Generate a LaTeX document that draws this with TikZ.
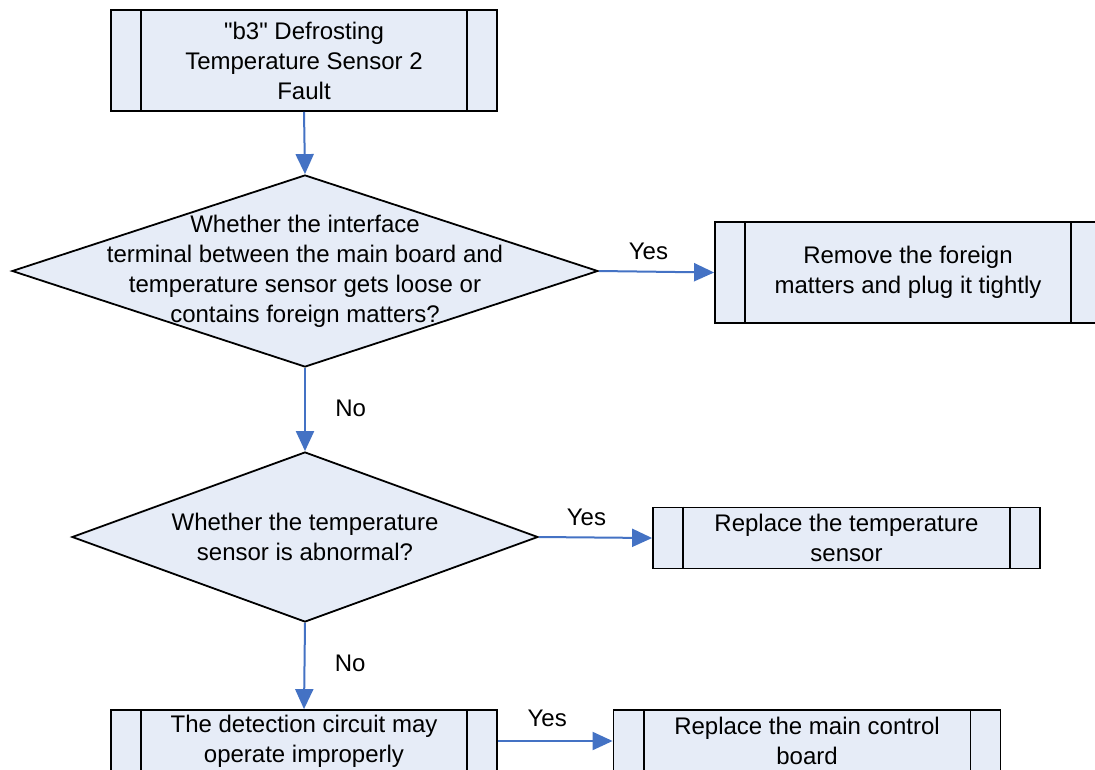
\documentclass[tikz,border=0pt]{standalone}
\usepackage{fontspec}
\setmainfont{Liberation Sans}
\usetikzlibrary{shapes.geometric,arrows.meta}
\font\qfont="Liberation Sans" at 24pt
\newcommand{\dq}{{\qfont\char34}}
\definecolor{boxfill}{HTML}{E6ECF7}
\definecolor{arrowblue}{HTML}{4472C4}
\tikzset{
  txt/.style={font=\fontsize{24}{30}\selectfont, align=center, text=black},
  pbox/.style={draw=black, line width=1.8pt, fill=boxfill, rectangle, inner sep=0pt, txt},
  dbox/.style={draw=black, line width=1.8pt, fill=boxfill, diamond, inner sep=0pt},
  innerline/.style={draw=black, line width=1.8pt},
  conn/.style={draw=arrowblue, line width=2pt, -{Triangle[length=20pt,width=18pt]}},
  lbl/.style={font=\fontsize{24}{30}\selectfont, text=black}
}
\newcommand{\innerlines}[1]{%
  \draw[innerline] ([xshift=31pt]#1.north west) -- ([xshift=31pt]#1.south west);
  \draw[innerline] ([xshift=-31pt]#1.north east) -- ([xshift=-31pt]#1.south east);}
\begin{document}
\begin{tikzpicture}[x=1pt,y=-1pt]
\useasboundingbox (0,0) rectangle (1095,769);
\clip (0,0) rectangle (1095,769);
\fill[white] (0,0) rectangle (1095,769);

% top box
\node[pbox, minimum width=386pt, minimum height=101pt] (start) at (304,60.5)
  {\dq b3\dq{} Defrosting\\Temperature Sensor 2\\Fault};
\innerlines{start}

% diamond 1
\node[dbox, minimum width=586pt, minimum height=192pt] (d1) at (305,271) {};
\node[txt] (d1t) at (d1.center) {Whether the interface\\terminal between the main board and\\temperature sensor gets loose or\\contains foreign matters?};

% box 2
\node[pbox, minimum width=386pt, minimum height=101pt] (r1) at (908,272.5)
  {Remove the foreign\\matters and plug it tightly};
\innerlines{r1}

% diamond 2
\node[dbox, minimum width=466pt, minimum height=170pt] (d2) at (305,537) {};
\node[txt] (d2t) at (d2.center) {Whether the temperature\\sensor is abnormal?};

% box 3
\node[pbox, minimum width=387pt, minimum height=61pt] (r2) at (846.5,538)
  {Replace the temperature\\sensor};
\innerlines{r2}

% box 4
\node[pbox, minimum width=386pt, minimum height=62pt] (c1) at (304,741)
  {The detection circuit may\\operate improperly};
\innerlines{c1}

% box 5
\node[pbox, minimum width=387pt, minimum height=62pt] (r3) at (807,741)
  {Replace the main control\\board};
\innerlines{r3}

% connectors
\draw[conn] (start.south) -- (d1.north);
\draw[conn] (d1.east) -- node[lbl, pos=0.43, above=8pt] {Yes} (r1.west);
\draw[conn] (d1.south) -- node[lbl, pos=0.49, right=26pt] {No} (d2.north);
\draw[conn] (d2.east) -- node[lbl, pos=0.42, above=7pt] {Yes} (r2.west);
\draw[conn] (d2.south) -- node[lbl, pos=0.47, right=26pt] {No} (c1.north);
\draw[conn] (c1.east) -- node[lbl, pos=0.43, above=10pt] {Yes} (r3.west);
\end{tikzpicture}
\end{document}
